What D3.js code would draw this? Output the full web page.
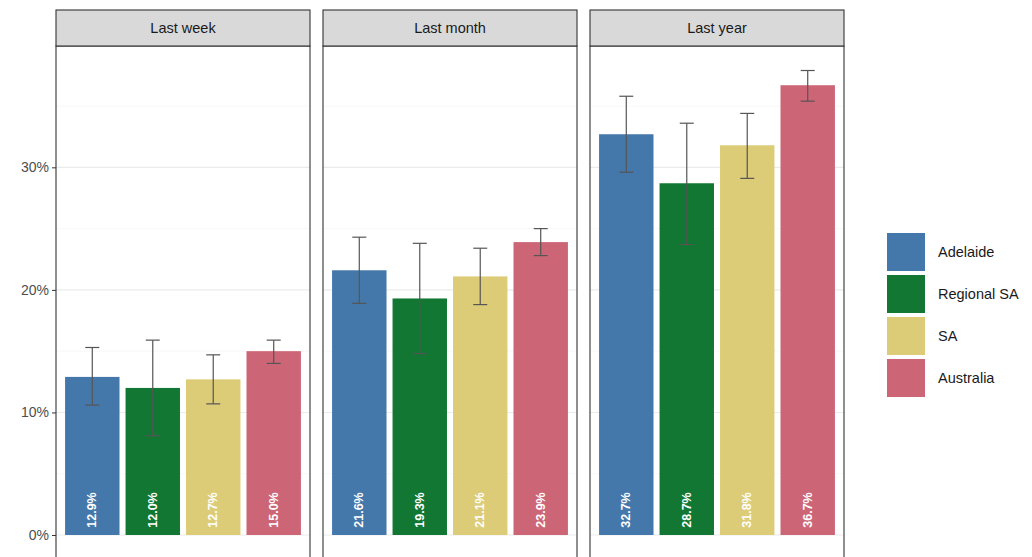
<!DOCTYPE html>
<html><head><meta charset="utf-8">
<script src="https://cdn.jsdelivr.net/npm/d3@7"></script>
<style>body{margin:0;background:#fff}text{font-family:"Liberation Sans",Arial,sans-serif}</style>
</head><body><svg id="c" width="1032" height="557"></svg>
<script>
const periods=["Last week","Last month","Last year"];
const regions=["Adelaide","Regional SA","SA","Australia"];
const colors=["#4477AA","#117733","#DDCC77","#CC6677"];
const values=[[12.9,12.0,12.7,15.0],[21.6,19.3,21.1,23.9],[32.7,28.7,31.8,36.7]];
const lower=[[10.6,8.1,10.7,14.0],[18.9,14.8,18.8,22.8],[29.6,23.7,29.1,35.4]];
const upper=[[15.3,15.9,14.7,15.9],[24.3,23.8,23.4,25.0],[35.8,33.6,34.4,37.9]];
const yTicks=[0,10,20,30];

const svg=d3.select("#c");
const y=d3.scaleLinear().domain([0,39.9]).range([535,46]);
const panelX=[56,323,590],pw=254;
periods.forEach((p,i)=>{
  const g=svg.append("g").attr("transform",`translate(${panelX[i]},0)`);
  [5,15,25,35].forEach(v=>g.append("line").attr("x1",0).attr("x2",pw).attr("y1",y(v)).attr("y2",y(v)).attr("stroke","#f2f2f2").attr("stroke-width",0.6));
  yTicks.forEach(v=>g.append("line").attr("x1",0).attr("x2",pw).attr("y1",y(v)).attr("y2",y(v)).attr("stroke","#ebebeb").attr("stroke-width",1.1));
  const x=d3.scaleBand().domain(regions).range([0,pw]).paddingInner(0.1).paddingOuter(0.15);
  regions.forEach((r,j)=>{
    const cx=x(r)+x.bandwidth()/2;
    g.append("rect").attr("x",x(r)).attr("width",x.bandwidth()).attr("y",y(values[i][j])).attr("height",y(0)-y(values[i][j])).attr("fill",colors[j]);
    g.append("line").attr("x1",cx).attr("x2",cx).attr("y1",y(lower[i][j])).attr("y2",y(upper[i][j])).attr("stroke","#555").attr("stroke-width",1.2);
    [lower[i][j],upper[i][j]].forEach(v=>g.append("line").attr("x1",cx-7).attr("x2",cx+7).attr("y1",y(v)).attr("y2",y(v)).attr("stroke","#555").attr("stroke-width",1.2));
    g.append("text").attr("transform",`translate(${cx+4},510) rotate(-90)`).attr("text-anchor","middle").attr("fill","#fff").attr("font-weight","bold").attr("font-size",12.5).text(values[i][j].toFixed(1)+"%");
  });
  g.append("rect").attr("x",0).attr("y",46).attr("width",pw).attr("height",530).attr("fill","none").attr("stroke","#333").attr("stroke-width",1.1);
  g.append("rect").attr("x",0).attr("y",10).attr("width",pw).attr("height",36).attr("fill","#d9d9d9").attr("stroke","#333").attr("stroke-width",1.1);
  g.append("text").attr("x",pw/2).attr("y",33).attr("text-anchor","middle").attr("font-size",14.5).attr("fill","#1a1a1a").text(p);
});
const ax=svg.append("g").attr("transform","translate(56,0)").call(d3.axisLeft(y).tickValues(yTicks).tickFormat(d=>d+"%").tickSize(4));
ax.select(".domain").remove();
ax.selectAll("line").attr("stroke","#333");
ax.selectAll("text").attr("font-size",14).attr("fill","#4d4d4d").attr("font-family","Liberation Sans, Arial, sans-serif");
const lg=svg.append("g");
regions.forEach((r,j)=>{
  lg.append("rect").attr("x",887).attr("y",233+j*42).attr("width",38).attr("height",38).attr("fill",colors[j]);
  lg.append("text").attr("x",938).attr("y",252+j*42).attr("dy","0.35em").attr("font-size",14.5).attr("fill","#1a1a1a").text(r);
});
</script></body></html>
